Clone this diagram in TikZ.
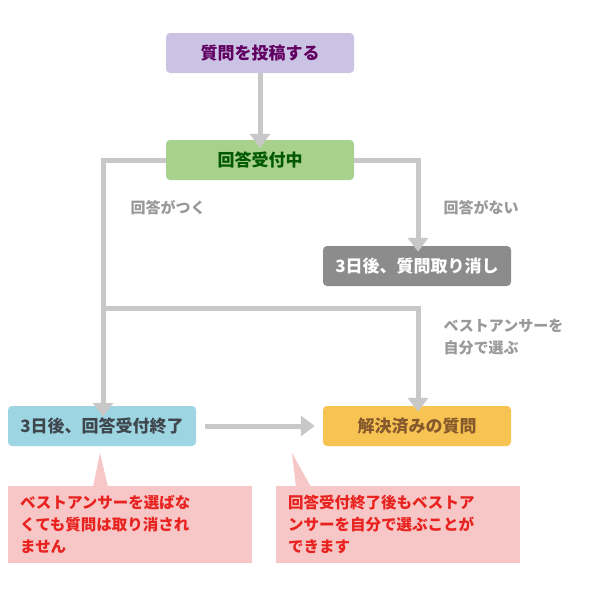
\documentclass[tikz,border=0pt]{standalone}
\usepackage{fontspec}
\setmainfont{Noto Sans CJK JP}
\usetikzlibrary{arrows.meta}
\definecolor{lineGray}{HTML}{C8C8C8}
\definecolor{txtGray}{HTML}{999999}
\definecolor{boxPurple}{HTML}{CBC3E3}
\definecolor{boxGreen}{HTML}{A9D18E}
\definecolor{boxGray}{HTML}{8C8C8C}
\definecolor{boxCyan}{HTML}{9DD6E2}
\definecolor{boxYellow}{HTML}{F7C352}
\definecolor{notePink}{HTML}{F7C6C6}
\definecolor{noteRed}{HTML}{E8231F}
\begin{document}
\begin{tikzpicture}[x=1pt,y=-1pt,font=\bfseries\fontsize{17}{20}\selectfont,
  stage/.style={rounded corners=4pt, minimum width=188pt, minimum height=40pt, inner sep=0pt},
  flow/.style={line width=5pt, draw=lineGray},
  tip/.style={-{Triangle[length=14pt,width=20pt]}},
  cmt/.style={text=txtGray, font=\bfseries\fontsize{15}{22}\selectfont, align=left, anchor=west},
  note/.style={fill=notePink, text=noteRed, font=\bfseries\fontsize{15.5}{22}\selectfont, align=left, anchor=north west, text width=220pt, minimum width=235pt, minimum height=77pt, inner sep=7pt, inner xsep=12pt}]

      \useasboundingbox (0,0) rectangle (600,600);

      % boxes
      \node [stage, fill=boxPurple, text=violet!75!black, name=post] at (260, 53) {質問を投稿する};
      \node [stage, fill=boxGreen, text=green!35!black, name=open] at (260, 160) {回答受付中};
      \node [stage, fill=boxGray, text=white, name=cancel] at (417, 266) {3日後、質問取り消し};
      \node [stage, fill=boxCyan, text=cyan!20!black, name=closed] at (102, 426) {3日後、回答受付終了};
      \node [stage, fill=boxYellow, text=brown!70!black, name=solved] at (417, 426) {解決済みの質問};

      % helper points
      \coordinate (cl) at (103, 160);
      \coordinate (cr) at (418, 160);
      \coordinate (ml) at (103, 308);
      \coordinate (mr) at (418, 308);

      % connections
      \draw [flow, tip] (post) -- ([yshift=-8pt]open.north);
      \draw [flow, tip] (open.west) -- (cl) -- ([yshift=-11pt]closed.north -| cl);
      \draw [flow, tip] (open.east) -- (cr) -- ([yshift=-6pt]cancel.north -| cr);
      \draw [flow, tip] (ml) -- (mr) -- ([yshift=-6pt]solved.north -| mr);
      \draw [flow, tip] ([xshift=9pt]closed.east) -- ([xshift=-8pt]solved.west);

      % labels
      \node [cmt, name=yes] at (127, 208) {回答がつく};
      \node [cmt, name=no] at (440, 208) {回答がない};
      \node [cmt, name=best] at (440, 337) {ベストアンサーを\\自分で選ぶ};

      % notes
      \node [note, name=n1] at (8, 486) {ベストアンサーを選ばな\\くても質問は取り消され\\ません};
      \node [note, name=n2] at (276, 486) {回答受付終了後もベストア\\ンサーを自分で選ぶことが\\できます};
      \fill [notePink] (93, 487) -- (100, 453) -- (108, 487) -- cycle;
      \fill [notePink] (296, 487) -- (292, 453) -- (311, 487) -- cycle;

\end{tikzpicture}
\end{document}
